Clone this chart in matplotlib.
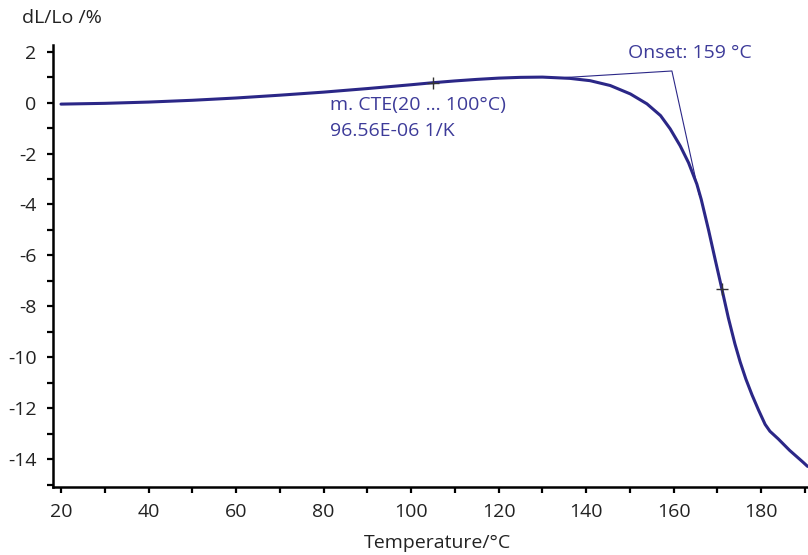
import matplotlib
matplotlib.use("Agg")
import matplotlib.pyplot as plt
from matplotlib.ticker import MultipleLocator

plt.rcParams['font.family'] = ['Open Sans', 'DejaVu Sans']
plt.rcParams['axes.unicode_minus'] = False

# Data
temp = [20, 30, 40, 50, 60, 70, 80, 90, 100, 105, 110, 115, 120, 125, 130,
        136.3, 140.9, 145.5, 150.1, 153.9, 157.0, 159.2, 161.5, 163.4, 165.3,
        166.3, 168.0, 169.5, 171.0, 172.5, 174.0, 175.2, 176.5, 177.9, 179.4,
        180.9, 182.0, 183.9, 186.5, 189.6, 190.6]
dl = [-0.06, -0.03, 0.02, 0.09, 0.18, 0.29, 0.41, 0.55, 0.70, 0.78, 0.85,
      0.91, 0.96, 0.99, 1.00, 0.95, 0.86, 0.67, 0.34, -0.05, -0.51, -1.03,
      -1.70, -2.36, -3.20, -3.80, -5.02, -6.17, -7.30, -8.45, -9.47, -10.18,
      -10.85, -11.47, -12.07, -12.63, -12.90, -13.20, -13.65, -14.12, -14.28]

onset_x = [133.0, 159.6, 165.8]
onset_y = [0.96, 1.24, -3.60]

mark_x = [105.0, 171.0]
mark_y = [0.78, -7.30]

xticks = [20, 40, 60, 80, 100, 120, 140, 160, 180]
yticks = [2, 0, -2, -4, -6, -8, -10, -12, -14]

curve_col = '#2b2787'
text_col = '#3d3b99'
fs = 14

fig = plt.figure(figsize=(8.08, 5.55), dpi=100)
ax = fig.add_axes([53.3/808, 1-487.3/555, (808-53.3)/808, (487.3-45)/555])

ax.plot(temp, dl, color=curve_col, lw=2.2, solid_capstyle='round',
        solid_joinstyle='round', zorder=3)
ax.plot(onset_x, onset_y, color=curve_col, lw=0.8, zorder=2)
ax.plot(mark_x, mark_y, linestyle='none', marker='+', markersize=9,
        markeredgewidth=1.0, color='#333333', zorder=4)

ax.set_xlim(18.24, 190.7)
ax.set_ylim(-15.1, 2.26)
ax.set_xticks(xticks)
ax.set_yticks(yticks)
ax.xaxis.set_minor_locator(MultipleLocator(10))
ax.yaxis.set_minor_locator(MultipleLocator(1))

for s in ['top', 'right']:
    ax.spines[s].set_visible(False)
for s in ['left', 'bottom']:
    ax.spines[s].set_linewidth(1.8)
    ax.spines[s].set_color('black')

ax.tick_params(which='both', direction='out', length=4, width=1.6,
               color='black', labelsize=fs, labelcolor='#222222')
ax.tick_params(axis='y', pad=8)
ax.tick_params(axis='x', pad=7)

fig.text(628/808, 1-53/555, 'Onset: 159 °C', color=text_col, fontsize=fs,
         ha='left', va='center')
fig.text(330/808, 1-105/555, 'm. CTE(20 ... 100°C)', color=text_col,
         fontsize=fs, ha='left', va='center')
fig.text(330/808, 1-131/555, '96.56E-06 1/K', color=text_col,
         fontsize=fs, ha='left', va='center')

fig.text(22/808, 1-18/555, 'dL/Lo /%', color='#222222', fontsize=fs,
         ha='left', va='center')
fig.text(437/808, 1-543/555, 'Temperature/°C', color='#222222', fontsize=fs,
         ha='center', va='center')

fig.savefig('out.png', dpi=100)
